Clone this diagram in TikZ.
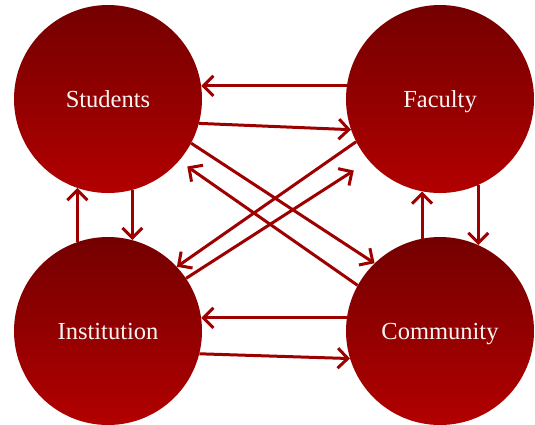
\documentclass[tikz,border=0pt]{standalone}
\usepackage{fontspec}
\setmainfont{Liberation Serif}
\usetikzlibrary{arrows.meta}
\definecolor{arrowred}{RGB}{158,0,0}
\definecolor{topred}{RGB}{116,0,0}
\definecolor{botred}{RGB}{178,0,0}
\definecolor{txtwhite}{RGB}{250,244,244}
\tikzset{
  bubble/.style={circle, minimum size=188pt, inner sep=0pt, top color=topred, bottom color=botred, draw=none,
    text=txtwhite, font=\fontsize{24.5}{29}\selectfont, text height=16pt, text depth=0pt},
  arr/.style={draw=arrowred, line width=3pt, -{Straight Barb[length=10pt,width=20pt]}}
}
\begin{document}
\begin{tikzpicture}[x=1pt,y=-1pt]
\useasboundingbox (0,0) rectangle (535,424);
\node[bubble] (S) at (108,99) {Students};
\node[bubble] (F) at (440,99) {Faculty};
\node[bubble] (I) at (108,331) {Institution};
\node[bubble] (C) at (440,331) {Community};
% horizontal
\draw[arr] (F.172) -- (S.8);
\draw[arr] (S.-15) -- (F.199);
\draw[arr] (C.172) -- (I.8);
\draw[arr] (I.-14) -- (C.197);
% vertical
\draw[arr] (I.109) -- (S.-109);
\draw[arr] (S.-75) -- (I.75);
\draw[arr] (C.101.7) -- (F.-101.7);
\draw[arr] (F.-66.8) -- (C.66.8);
% diagonals
\draw[arr] (S.-28.7) -- (C.134.6);
\draw[arr, shorten >=10pt] (C.151) -- (S.-41.5);
\draw[arr] (F.207.4) -- (I.43.3);
\draw[arr, shorten >=18pt] (I.34) -- (F.221.4);
\end{tikzpicture}
\end{document}
